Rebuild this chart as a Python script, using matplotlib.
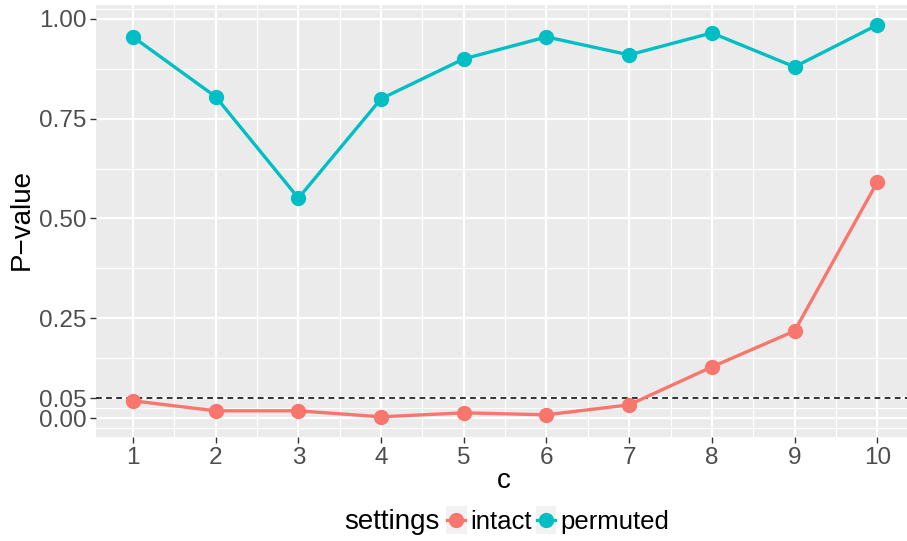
import matplotlib
matplotlib.use("Agg")
import matplotlib.pyplot as plt
from matplotlib.lines import Line2D
from matplotlib.patches import Rectangle
from matplotlib.legend_handler import HandlerBase

plt.rcParams['font.family'] = ['Liberation Sans', 'DejaVu Sans']

c_vals = [1, 2, 3, 4, 5, 6, 7, 8, 9, 10]
intact = [0.043, 0.018, 0.018, 0.003, 0.013, 0.008, 0.033, 0.128, 0.218, 0.591]
permuted = [0.955, 0.805, 0.551, 0.800, 0.900, 0.955, 0.910, 0.965, 0.880, 0.985]
y_breaks = [0.00, 0.05, 0.25, 0.50, 0.75, 1.00]
y_labels = ["0.00", "0.05", "0.25", "0.50", "0.75", "1.00"]
y_minor = [-0.025, 0.025, 0.15, 0.375, 0.625, 0.875, 1.025]
threshold = 0.05
series_names = ["intact", "permuted"]
colors = ["#F8766D", "#00BFC4"]

W, H = 907, 541
fig = plt.figure(figsize=(W / 100, H / 100), dpi=100)
left, right, top, bottom = 96, 907, 5, 437
ax = fig.add_axes([left / W, 1 - bottom / H, (right - left) / W, (bottom - top) / H])
ax.set_facecolor("#EBEBEB")
for s in ax.spines.values():
    s.set_visible(False)

ax.set_xlim(0.552, 10.36)
ax.set_ylim(-0.0476, 1.035)

# grid
for v in y_minor:
    ax.axhline(v, color="white", lw=0.8, zorder=1)
for v in [i + 0.5 for i in range(0, 11)]:
    ax.axvline(v, color="white", lw=0.8, zorder=1)
for v in y_breaks:
    ax.axhline(v, color="white", lw=1.6, zorder=1)
for v in c_vals:
    ax.axvline(v, color="white", lw=1.6, zorder=1)

ax.axhline(threshold, color="#222222", lw=1.3, ls=(0, (3.2, 2.4)), zorder=2)

for vals, col in zip([intact, permuted], colors):
    ax.plot(c_vals, vals, color=col, lw=2.4, marker="o", markersize=10, zorder=3)

ax.set_xticks(c_vals)
ax.set_xticklabels([str(v) for v in c_vals])
ax.set_yticks(y_breaks)
ax.set_yticklabels(y_labels)
ax.tick_params(axis="both", length=4, width=1, color="#333333",
               labelsize=17.5, labelcolor="#4D4D4D", pad=3)

fig.text(22 / W, 1 - 220 / H, "P\u2212value", rotation=90, ha="center", va="center",
         fontsize=20, color="black")
fig.text(504 / W, 1 - 481 / H, "c", ha="center", va="center", fontsize=20, color="black")


class KeyHandler(HandlerBase):
    def __init__(self, color):
        super().__init__()
        self.color = color

    def create_artists(self, legend, orig_handle, xdescent, ydescent, width, height,
                       fontsize, trans):
        rect = Rectangle((-xdescent, -ydescent + height / 2 - 10), width, 20,
                         facecolor="#F2F2F2", edgecolor="none", transform=trans)
        ln = Line2D([-xdescent + 1, -xdescent + width - 1],
                    [-ydescent + height / 2] * 2, color=self.color, lw=2.3,
                    transform=trans)
        mk = Line2D([-xdescent + width / 2], [-ydescent + height / 2], marker="o",
                    markersize=10, color=self.color, transform=trans)
        return [rect, ln, mk]


handles = [Line2D([], [], color=c) for c in colors]
fig.text(392 / W, 1 - 522 / H, "settings", ha="center", va="center", fontsize=20)
leg = fig.legend(handles, series_names, ncol=2, loc="center left",
                 bbox_to_anchor=(446 / W, 1 - 522 / H), frameon=False, fontsize=18.5,
                 handlelength=0.8, handletextpad=0.15, columnspacing=0.15,
                 borderpad=0, borderaxespad=0,
                 handler_map={handles[0]: KeyHandler(colors[0]),
                              handles[1]: KeyHandler(colors[1])})

fig.savefig("out.png", dpi=100)
